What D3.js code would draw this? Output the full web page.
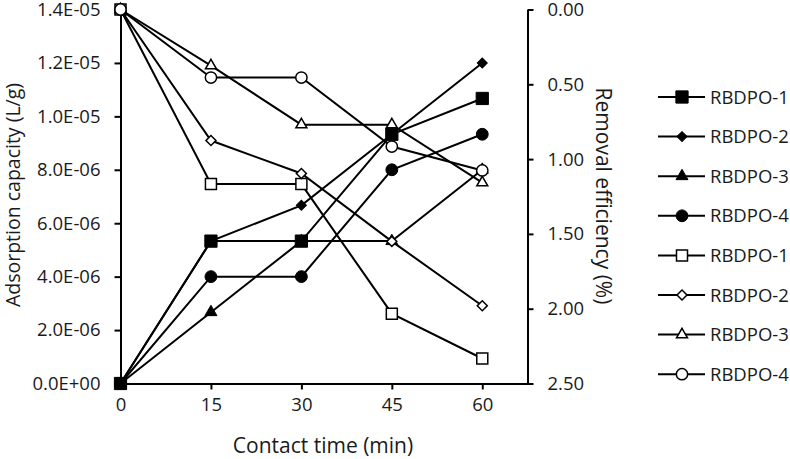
<!DOCTYPE html>
<html><head><meta charset="utf-8">
<script src="https://cdn.jsdelivr.net/npm/d3@7"></script>
<style>body{margin:0;background:#fff}text{font-family:"Open Sans",sans-serif;fill:#1a1a1a}</style>
</head><body>
<svg id="c" width="790" height="459"></svg>
<script>
const times = [0, 15, 30, 45, 60];
const leftTicks = [0, 2e-6, 4e-6, 6e-6, 8e-6, 1e-5, 1.2e-5, 1.4e-5];
const leftTickLabels = ["0.0E+00","2.0E-06","4.0E-06","6.0E-06","8.0E-06","1.0E-05","1.2E-05","1.4E-05"];
const rightTicks = [0, 0.5, 1.0, 1.5, 2.0, 2.5];
const rightTickLabels = ["0.00","0.50","1.00","1.50","2.00","2.50"];
// Adsorption capacity (L/g), left axis
const adsRBDPO1 = [0, 5.33e-6, 5.33e-6, 9.33e-6, 1.067e-5];
const adsRBDPO2 = [0, 5.33e-6, 6.67e-6, 9.33e-6, 1.2e-5];
const adsRBDPO3 = [0, 2.67e-6, 5.33e-6, 5.33e-6, 8.0e-6];
const adsRBDPO4 = [0, 4.0e-6, 4.0e-6, 8.0e-6, 9.33e-6];
// Removal efficiency (%), right axis (reversed)
const remRBDPO1 = [0, 1.167, 1.167, 2.033, 2.333];
const remRBDPO2 = [0, 0.876, 1.096, 1.55, 1.98];
const remRBDPO3 = [0, 0.375, 0.77, 0.77, 1.157];
const remRBDPO4 = [0, 0.455, 0.455, 0.916, 1.076];
const seriesNames = ["RBDPO-1","RBDPO-2","RBDPO-3","RBDPO-4","RBDPO-1","RBDPO-2","RBDPO-3","RBDPO-4"];

const svg = d3.select("#c");
const x = d3.scaleLinear().domain([0, 67.5]).range([120.5, 527.5]);
const yL = d3.scaleLinear().domain([0, 1.4e-5]).range([383.5, 9.5]);
const yR = d3.scaleLinear().domain([0, 2.5]).range([9.5, 383.5]);

const series = [
  {v: adsRBDPO1, y: yL, shape: "square", fill: true},
  {v: adsRBDPO2, y: yL, shape: "diamond", fill: true},
  {v: adsRBDPO3, y: yL, shape: "triangle", fill: true},
  {v: adsRBDPO4, y: yL, shape: "circle", fill: true},
  {v: remRBDPO1, y: yR, shape: "square", fill: false},
  {v: remRBDPO2, y: yR, shape: "diamond", fill: false},
  {v: remRBDPO3, y: yR, shape: "triangle", fill: false},
  {v: remRBDPO4, y: yR, shape: "circle", fill: false}
];

function marker(g, shape, filled, cx, cy) {
  const st = filled ? {fill:"#000", stroke:"#000", sw:1} : {fill:"#fff", stroke:"#000", sw:1.5};
  let sym, rot = 0;
  if (shape === "square") sym = d3.symbol(d3.symbolSquare, filled ? 150 : 121);
  else if (shape === "diamond") { sym = d3.symbol(d3.symbolSquare, 50); rot = 45; }
  else if (shape === "triangle") sym = d3.symbol(d3.symbolTriangle, filled ? 62 : 52);
  else sym = d3.symbol(d3.symbolCircle, filled ? 110 : 100);
  g.append("path").attr("d", sym())
    .attr("transform", `translate(${cx},${cy}) rotate(${rot})`)
    .attr("fill", st.fill).attr("stroke", st.stroke).attr("stroke-width", st.sw);
}

// axes
const gx = svg.append("g").attr("transform", "translate(0,383.5)")
  .call(d3.axisBottom(x).tickValues(times).tickSize(6).tickPadding(8).tickSizeOuter(0));
const gl = svg.append("g").attr("transform", "translate(120.5,0)")
  .call(d3.axisLeft(yL).tickValues(leftTicks).tickFormat((d,i)=>leftTickLabels[i]).tickSize(6).tickPadding(14).tickSizeOuter(0));
const gr = svg.append("g").attr("transform", "translate(527.5,0)")
  .call(d3.axisRight(yR).tickValues(rightTicks).tickFormat((d,i)=>rightTickLabels[i]).tickSize(6).tickPadding(14).tickSizeOuter(0));
[gx, gl, gr].forEach(g => {
  g.selectAll("path,line").attr("stroke", "#000").attr("stroke-width", 2);
  g.selectAll("text").style("font-size", "18.5px").style("font-family", '"Open Sans",sans-serif').attr("fill", "#1a1a1a");
});

// series
const line = (yy) => d3.line().x((d,i)=>x(times[i])).y(d=>yy(d));
series.forEach(s => {
  const g = svg.append("g");
  g.append("path").datum(s.v).attr("d", line(s.y)).attr("fill","none").attr("stroke","#000").attr("stroke-width",2);
  s.v.forEach((d,i) => marker(g, s.shape, s.fill, x(times[i]), s.y(d)));
});

// titles
svg.append("text").attr("x", 323).attr("y", 453).attr("text-anchor","middle").style("font-size","21px").text("Contact time (min)");
svg.append("text").attr("transform","translate(20,195) rotate(-90)").attr("text-anchor","middle").style("font-size","19.5px").text("Adsorption capacity (L/g)");
svg.append("text").attr("transform","translate(596,196) rotate(90)").attr("text-anchor","middle").style("font-size","21px").text("Removal efficiency (%)");

// legend
const lg = svg.append("g");
series.forEach((s, i) => {
  const yy = 97 + i * 39.6;
  lg.append("line").attr("x1",658).attr("x2",705).attr("y1",yy).attr("y2",yy).attr("stroke","#000").attr("stroke-width",2);
  marker(lg, s.shape, s.fill, 682, yy);
  lg.append("text").attr("x",710).attr("y",yy+6.5).style("font-size","18.5px").text(seriesNames[i]);
});
</script>
</body></html>
